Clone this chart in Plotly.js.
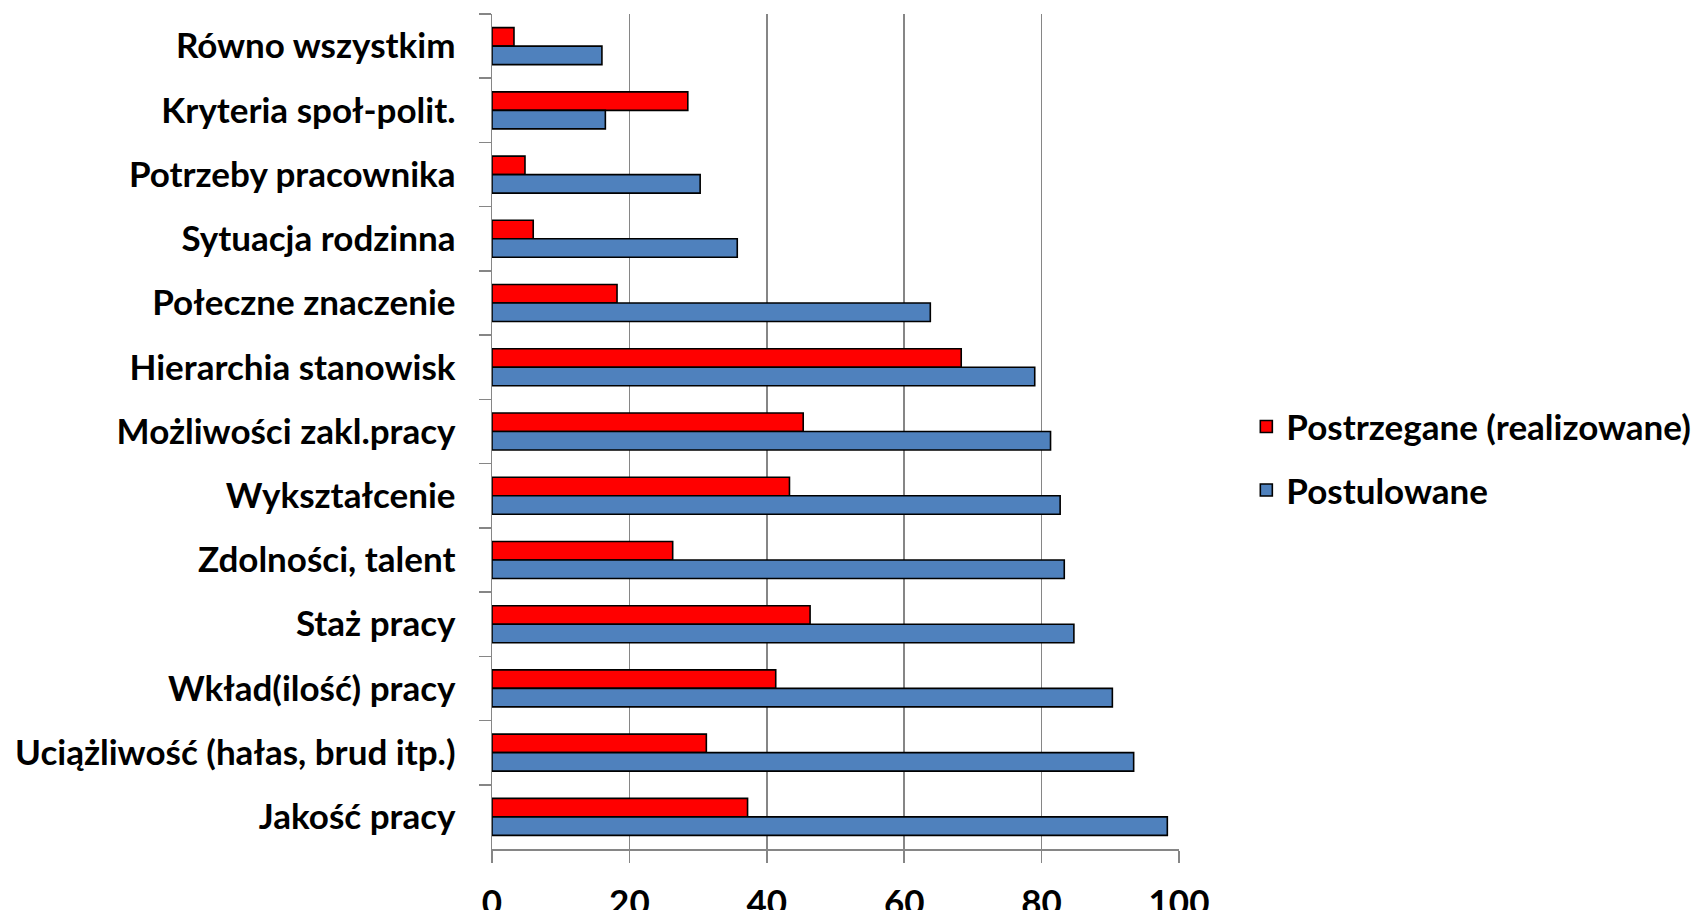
<!DOCTYPE html>
<html>
<head>
<meta charset="utf-8">
<script src="https://cdn.plot.ly/plotly-3.0.1.min.js"></script>
<style>html,body{margin:0;padding:0;background:#fff;}#chart{width:1698px;height:910px;}</style>
</head>
<body>
<div id="chart"></div>
<script>
const categories = [
  "Równo wszystkim",
  "Kryteria społ-polit.",
  "Potrzeby pracownika",
  "Sytuacja rodzinna",
  "Połeczne znaczenie",
  "Hierarchia stanowisk",
  "Możliwości zakl.pracy",
  "Wykształcenie",
  "Zdolności, talent",
  "Staż pracy",
  "Wkład(ilość) pracy",
  "Uciążliwość (hałas, brud itp.)",
  "Jakość pracy"
];
const postrzegane = [3.2, 28.5, 4.8, 6.0, 18.2, 68.3, 45.3, 43.3, 26.3, 46.3, 41.3, 31.2, 37.2];
const postulowane = [16.0, 16.5, 30.3, 35.7, 63.8, 79.0, 81.3, 82.7, 83.3, 84.7, 90.3, 93.4, 98.3];
const seriesNames = ["Postrzegane (realizowane)", "Postulowane"];
const xTicks = [0, 20, 40, 60, 80, 100];

const font = {family: "Lato, 'Open Sans', sans-serif", size: 35, color: "#000", weight: 700};

const traces = [
  {type: "bar", orientation: "h", name: seriesNames[0], y: categories, x: postrzegane,
   legendgroup: "a",
   marker: {color: "#FF0000", line: {color: "#000", width: 1.6}}, hoverinfo: "x+y"},
  {type: "bar", orientation: "h", name: seriesNames[1], y: categories, x: postulowane,
   legendgroup: "b",
   marker: {color: "#4F81BD", line: {color: "#000", width: 1.6}}, hoverinfo: "x+y"}
];

const layout = {
  width: 1698, height: 910,
  margin: {l: 491.5, r: 519, t: 14, b: 61, autoexpand: false},
  paper_bgcolor: "#fff", plot_bgcolor: "#fff",
  font: font,
  barmode: "group",
  bargap: 0.424,
  bargroupgap: 0,
  showlegend: true,
  legend: {x: 1.098, xanchor: "left", y: 0.468, yanchor: "middle",
           font: font, traceorder: "grouped", tracegroupgap: 15,
           itemwidth: 30, bgcolor: "rgba(0,0,0,0)"},
  xaxis: {
    range: [0, 100], tickvals: xTicks, ticktext: xTicks.map(String),
    showgrid: true, gridcolor: "#868686", gridwidth: 1.5,
    showline: true, linecolor: "#868686", linewidth: 1.5,
    ticks: "outside", ticklen: 12, tickwidth: 1.5, tickcolor: "#868686",
    ticklabelstandoff: 10, automargin: false,
    zeroline: false, fixedrange: true, tickfont: font
  },
  yaxis: {
    type: "category", autorange: "reversed",
    showgrid: false, zeroline: false,
    showline: true, linecolor: "#868686", linewidth: 1.5,
    ticks: "outside", ticklen: 12, tickwidth: 1.5, tickcolor: "#868686",
    tickson: "boundaries", ticklabelstandoff: 28, automargin: false,
    fixedrange: true, tickfont: font
  }
};

Plotly.newPlot("chart", traces, layout, {displayModeBar: false, staticPlot: true});
</script>
</body>
</html>
